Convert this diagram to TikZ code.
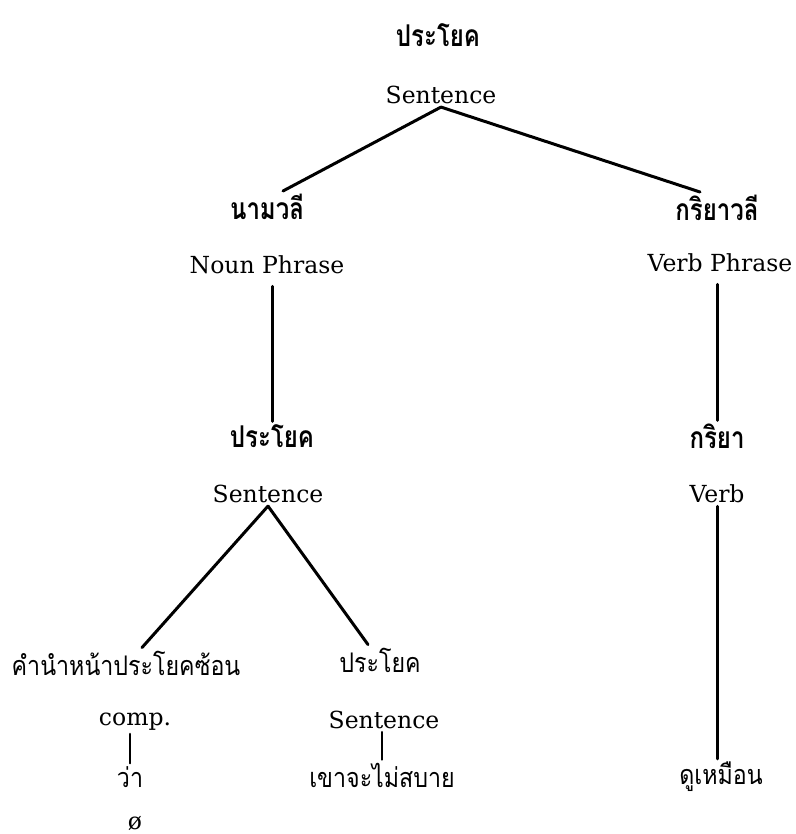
\documentclass[tikz,border=0pt]{standalone}
\usepackage{fontspec}
\newfontfamily\thaifont[Script=Thai, FakeStretch=0.86]{Loma}
\newfontfamily\thaihead[Script=Thai, FakeStretch=0.8]{Loma}
\newfontfamily\engfont{DejaVu Serif}
\usetikzlibrary{positioning}
\tikzset{
  x=1pt, y=1pt,
  node distance=58pt,
  every node/.style={inner sep=3pt},
  eng/.style={font=\fontsize{23.5}{28}\selectfont\engfont},
  thhead/.style={font=\fontsize{30}{34}\selectfont\thaihead\bfseries},
  thword/.style={font=\fontsize{27}{31}\selectfont\thaifont},
  branch/.style={line width=3pt, line cap=round},
  twig/.style={line width=2.4pt, line cap=round},
}

\begin{document}
\begin{tikzpicture}
        \useasboundingbox (0,0) rectangle (795,834);

        % labels
        \node[thhead] (th0) at (438,799) {ประโยค};
        \node[eng, below of=th0, node distance=60pt, xshift=3pt] (s0) {Sentence};
        \node[thhead] (thnp) at (267,627) {นามวลี};
        \node[eng, below of=thnp] (np) {Noun Phrase};
        \node[thhead] (thvp) at (717,626) {กริยาวลี};
        \node[eng, below of=thvp, node distance=55pt, xshift=3pt] (vp) {Verb Phrase};
        \node[thhead] (ths1) at (272,398) {ประโยค};
        \node[eng, below of=ths1, xshift=-4pt] (s1) {Sentence};
        \node[thhead] (thv) at (717,398) {กริยา};
        \node[eng, below of=thv] (v) {Verb};
        \node[thword] (thcomp) at (126,171) {คำนำหน้าประโยคซ้อน};
        \node[eng, below of=thcomp, node distance=59pt, xshift=9pt] (comp) {comp.};
        \node[thword] (wa) at (130,57) {ว่า};
        \node[eng, below of=wa, node distance=46pt, xshift=5pt] (null) {ø};
        \node[thword] (ths2) at (380,174) {ประโยค};
        \node[eng, below of=ths2, node distance=60pt, xshift=4pt] (s2) {Sentence};
        \node[thword] (clause) at (382,59) {เขาจะไม่สบาย};
        \node[thword] (seem) at (721,57) {ดูเหมือน};

        % branches
        \draw[branch] (s0.south) edge ([xshift=16pt]thnp.north)
              (s0.south) edge ([xshift=-17pt]thvp.north)
              (ths1.north |- np.south) edge[shorten <=9pt] (ths1.north)
              (thv.north |- vp.south) edge[shorten <=9pt] (thv.north)
              (s1.south) edge ([xshift=16pt]thcomp.north)
              (s1.south) edge ([xshift=-12pt]ths2.north)
              (v.south) edge (v.south |- seem.north);
        \draw[twig] (wa.north |- comp.south) edge (wa.north)
              (clause.north |- s2.south) edge (clause.north);

      \end{tikzpicture}
\end{document}
